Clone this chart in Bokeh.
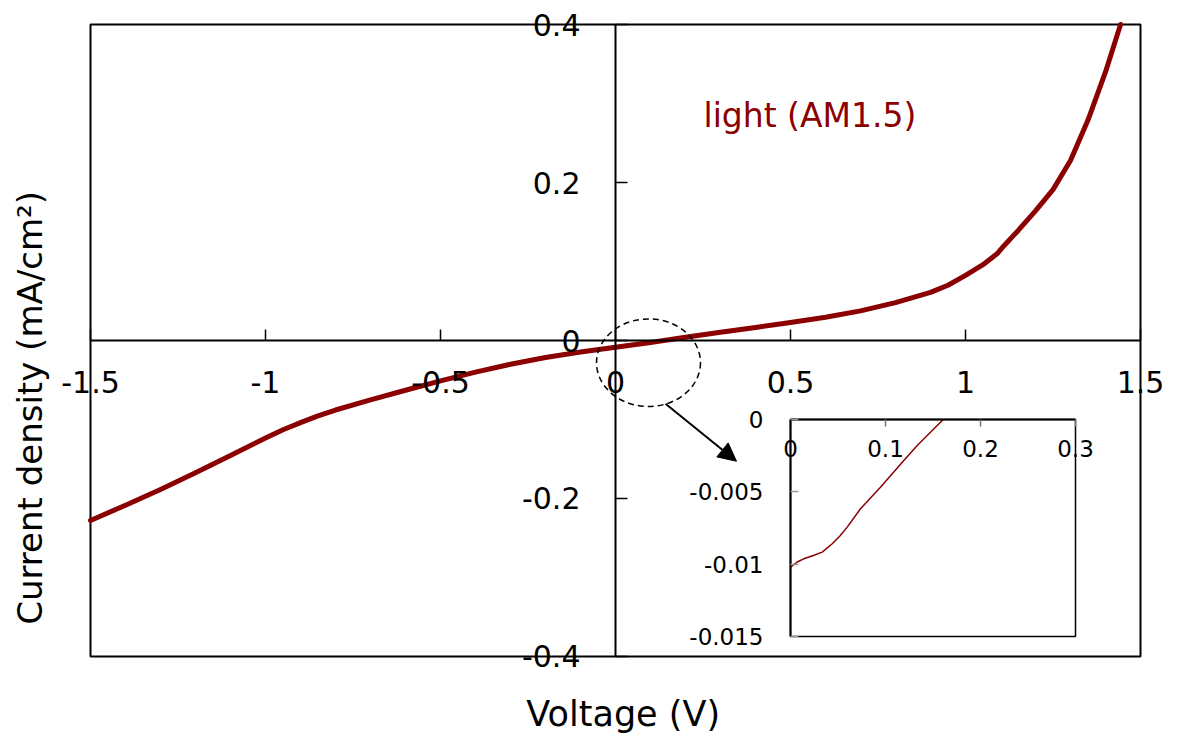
from bokeh.plotting import figure
from bokeh.models import LinearAxis, FixedTicker, Range1d, Label, Arrow, NormalHead
from bokeh.embed import file_html
from bokeh.resources import INLINE

# ---------------- data ----------------
voltage = [-1.5, -1.4, -1.3, -1.2, -1.1, -1.0, -0.95, -0.9, -0.85, -0.8, -0.7, -0.6, -0.5,
           -0.4, -0.3, -0.2, -0.1, 0.0, 0.1, 0.2, 0.3, 0.4, 0.5, 0.6, 0.7, 0.8, 0.9,
           0.95, 1.0, 1.05, 1.09, 1.11, 1.15, 1.2, 1.25, 1.3, 1.35, 1.4, 1.443]
current = [-0.2278, -0.2085, -0.1885, -0.1675, -0.1455, -0.1234, -0.1130, -0.1040,
           -0.0955, -0.0880, -0.0752, -0.0630, -0.0510, -0.0400, -0.0300, -0.0215,
           -0.0145, -0.0085, -0.0025, 0.0040, 0.0105, 0.0165, 0.0228, 0.0295, 0.0375,
           0.0480, 0.0610, 0.0700, 0.0825, 0.0960, 0.1097, 0.1200, 0.1390, 0.1640,
           0.1910, 0.2278, 0.2790, 0.3400, 0.4000]

inset_voltage = [0.0, 0.007, 0.014, 0.024, 0.0334, 0.0439, 0.052, 0.0597, 0.0737, 0.0947,
                 0.1193, 0.1334, 0.1597, 0.161]
inset_current = [-0.01021, -0.00985, -0.00963, -0.00940, -0.00917, -0.00859, -0.00805,
                 -0.00744, -0.00617, -0.00468, -0.00283, -0.0018, -0.00007, 0.0]

x_ticks = [-1.5, -1.0, -0.5, 0.0, 0.5, 1.0, 1.5]
x_tick_labels = ["-1.5", "-1", "-0.5", "0", "0.5", "1", "1.5"]
y_ticks = [-0.4, -0.2, 0.0, 0.2, 0.4]
y_tick_labels = ["-0.4", "-0.2", "0", "0.2", "0.4"]

inset_x_ticks = [0.0, 0.1, 0.2, 0.3]
inset_x_tick_labels = ["0", "0.1", "0.2", "0.3"]
inset_y_ticks = [0.0, -0.005, -0.01, -0.015]
inset_y_tick_labels = ["0", "-0.005", "-0.01", "-0.015"]

series_label = "light (AM1.5)"
x_title = "Voltage (V)"
y_title = "Current density (mA/cm\u00b2)"

# ---------------- style ----------------
RED = "#8B0000"
FONT = "DejaVu Sans"

# the frame covers the whole canvas; the plotted box is -1.5..1.5 x -0.4..0.4
p = figure(width=1177, height=742, output_backend="svg", toolbar_location=None,
           x_range=Range1d(-1.757143, 1.605714), y_range=Range1d(-0.508861, 0.430380),
           x_axis_location=None, y_axis_location=None,
           min_border_left=0, min_border_right=0, min_border_top=0, min_border_bottom=0)
p.xgrid.visible = False
p.ygrid.visible = False
p.outline_line_color = None
p.background_fill_color = "white"
p.border_fill_color = "white"

# inset coordinate system
p.extra_x_ranges = {"ix": Range1d(-0.831579, 0.407368)}
p.extra_y_ranges = {"iy": Range1d(-0.022327, 0.028963)}

# main box
p.quad(left=[-1.5], right=[1.5], bottom=[-0.4], top=[0.4], fill_color=None,
       line_color="black", line_width=2)

# main axes crossing at zero
xa = LinearAxis(fixed_location=0, bounds=(-1.5, 1.5), ticker=FixedTicker(ticks=x_ticks),
                major_label_overrides=dict(zip(x_ticks, x_tick_labels)),
                major_tick_in=11, major_tick_out=0, minor_tick_in=0, minor_tick_out=0,
                major_label_standoff=30, axis_line_width=2, major_tick_line_width=1.5,
                major_label_text_font=FONT, major_label_text_font_size="30px",
                major_label_text_color="black")
p.add_layout(xa, "below")
ya = LinearAxis(fixed_location=0, bounds=(-0.4, 0.4), ticker=FixedTicker(ticks=y_ticks),
                major_label_overrides=dict(zip(y_ticks, y_tick_labels)),
                major_tick_in=12, major_tick_out=0, minor_tick_in=0, minor_tick_out=0,
                major_label_standoff=35, axis_line_width=2, major_tick_line_width=1.5,
                major_label_text_font=FONT, major_label_text_font_size="30px",
                major_label_text_color="black")
p.add_layout(ya, "left")

# main curve
p.line(voltage, current, line_color=RED, line_width=5, line_join="round", line_cap="round")

# label
p.add_layout(Label(x=0.2514, y=0.2849, text=series_label, text_color=RED,
                   text_font=FONT, text_font_size="33px", text_align="left",
                   text_baseline="alphabetic"))

# axis titles
p.add_layout(Label(x=0.022, y=-0.4734, text=x_title, text_font=FONT, text_font_size="35px",
                   text_align="center", text_baseline="alphabetic", text_color="black"))
p.add_layout(Label(x=-1.674, y=-0.0854, text=y_title, text_font=FONT, text_font_size="34px",
                   text_align="center", text_baseline="alphabetic", angle=1.5708,
                   text_color="black"))

# dashed zoom ellipse + arrow
p.ellipse(x=[0.0943], y=[-0.0281], width=[0.297], height=[0.111], fill_alpha=0,
          line_color="black", line_dash="6 4", line_width=1.5)
p.add_layout(Arrow(end=NormalHead(size=18, fill_color="black", line_color="black"),
                   x_start=0.1429, y_start=-0.0801, x_end=0.3457, y_end=-0.1528,
                   line_width=2, line_color="black"))

# inset frame
p.quad(left=[0.0], right=[0.3], bottom=[-0.015], top=[0.0], fill_color="white",
       line_color="black", line_width=1.5, x_range_name="ix", y_range_name="iy")

# inset curve
p.line(inset_voltage, inset_current, line_color=RED, line_width=1.5,
       x_range_name="ix", y_range_name="iy")

# inset axes
ixa = LinearAxis(x_range_name="ix", y_range_name="iy", fixed_location=0, bounds=(0, 0.3),
                 ticker=FixedTicker(ticks=inset_x_ticks),
                 major_label_overrides=dict(zip(inset_x_ticks, inset_x_tick_labels)),
                 major_tick_in=0, major_tick_out=7, minor_tick_in=0, minor_tick_out=0,
                 major_label_standoff=13, axis_line_width=2, axis_line_color="black",
                 major_tick_line_color="#777777", major_tick_line_width=1.5,
                 major_label_text_font=FONT, major_label_text_font_size="23px",
                 major_label_text_color="black")
p.add_layout(ixa, "below")
iya = LinearAxis(x_range_name="ix", y_range_name="iy", fixed_location=0, bounds=(-0.015, 0),
                 ticker=FixedTicker(ticks=inset_y_ticks),
                 major_label_overrides=dict(zip(inset_y_ticks, inset_y_tick_labels)),
                 major_tick_in=8, major_tick_out=0, minor_tick_in=0, minor_tick_out=0,
                 major_label_standoff=27, axis_line_width=2, axis_line_color="black",
                 major_tick_line_color="#999999", major_tick_line_width=1.5,
                 major_label_text_font=FONT, major_label_text_font_size="23px",
                 major_label_text_color="black")
p.add_layout(iya, "left")

open("out.html", "w").write(file_html(p, INLINE))
